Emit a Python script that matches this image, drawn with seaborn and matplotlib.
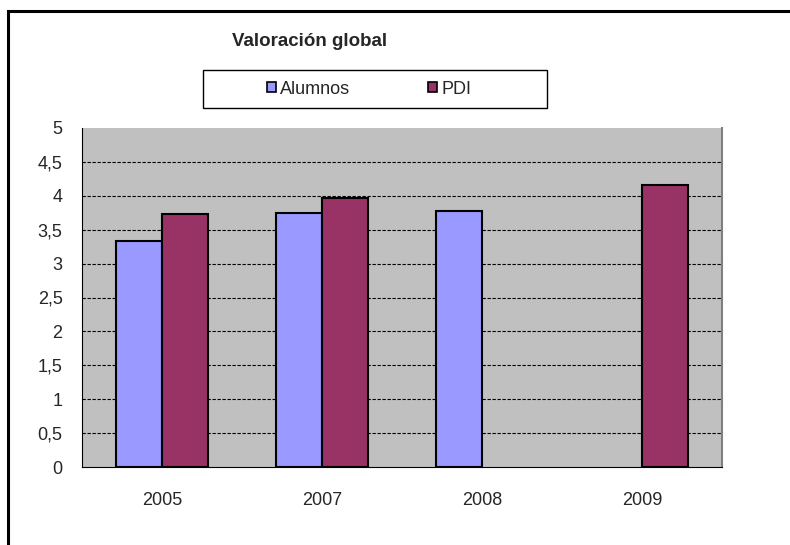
import matplotlib
matplotlib.use('Agg')
import matplotlib.pyplot as plt
import matplotlib.patches as mpatches
import numpy as np
import pandas as pd
import seaborn as sns

# data
years = ['2005', '2007', '2008', '2009']
alumnos = [3.33, 3.75, 3.78, np.nan]
pdi = [3.73, 3.97, np.nan, 4.16]
series_names = ['Alumnos', 'PDI']
y_ticks = [0, 0.5, 1, 1.5, 2, 2.5, 3, 3.5, 4, 4.5, 5]
y_tick_labels = ['0', '0,5', '1', '1,5', '2', '2,5', '3', '3,5', '4', '4,5', '5']
title = 'Valoración global'

df = pd.DataFrame({'year': years * 2,
                   'serie': [series_names[0]] * 4 + [series_names[1]] * 4,
                   'value': alumnos + pdi})

sns.set_style('white')
plt.rcParams['font.family'] = ['Liberation Sans', 'DejaVu Sans']

fig = plt.figure(figsize=(7.9, 5.45), dpi=100)
ax = fig.add_axes([82 / 790, 78 / 545, 640 / 790, 339 / 545])
ax.set_facecolor('#C0C0C0')
ax.set_axisbelow(True)

sns.barplot(data=df, x='year', y='value', hue='serie', order=years,
            hue_order=series_names, errorbar=None, width=0.575, saturation=1,
            palette={'Alumnos': '#9999FF', 'PDI': '#993366'},
            edgecolor='black', linewidth=1.5, legend=False, ax=ax)

# axes
ax.set_xlim(-0.5, 3.5)
ax.set_ylim(0, 5)
ax.set_yticks(y_ticks)
ax.set_yticklabels(y_tick_labels, fontsize=13)
ax.set_xticks([-0.5, 0.5, 1.5, 2.5, 3.5])
ax.set_xticklabels([])
ax.set_xticks(range(len(years)), minor=True)
ax.set_xticklabels(years, minor=True, fontsize=13)
ax.tick_params(axis='x', which='major', direction='out', length=5, width=1, color='black')
ax.tick_params(axis='x', which='minor', length=0, pad=18)
ax.tick_params(axis='y', direction='out', length=5, width=1, color='black', pad=9)
ax.set_xlabel('')
ax.set_ylabel('')

for y in y_ticks[1:-1]:
    ax.axhline(y, color='black', linestyle=(0, (3, 1.5)), linewidth=0.8, zorder=0.5)

ax.spines['top'].set_visible(False)
ax.spines['right'].set_color('#808080')
ax.spines['right'].set_linewidth(1.5)
ax.spines['left'].set_color('black')
ax.spines['bottom'].set_color('black')

# title
fig.text(310 / 790, 1 - 41 / 545, title, ha='center', va='center',
         fontsize=13.5, fontweight='bold')

# legend with a separate box
handles = [mpatches.Patch(facecolor='#9999FF', edgecolor='black', linewidth=1.2),
           mpatches.Patch(facecolor='#993366', edgecolor='black', linewidth=1.2)]
fig.legend(handles, series_names, loc='center', ncol=2, frameon=False,
           bbox_to_anchor=(369 / 790, 1 - 89 / 545), fontsize=13,
           handlelength=0.5, handleheight=0.5, handletextpad=0.25,
           columnspacing=4.3)
fig.add_artist(mpatches.Rectangle((203 / 790, 1 - 108 / 545), 344 / 790, 38 / 545,
                                  transform=fig.transFigure, facecolor='none',
                                  edgecolor='black', linewidth=1))

# outer frame (cut off at right and bottom)
fig.add_artist(mpatches.Rectangle((8 / 790, -0.2), 1.2, 1.2 - 11 / 545,
                                  transform=fig.transFigure, facecolor='none',
                                  edgecolor='black', linewidth=2.2))

fig.savefig('out.png', dpi=100)
